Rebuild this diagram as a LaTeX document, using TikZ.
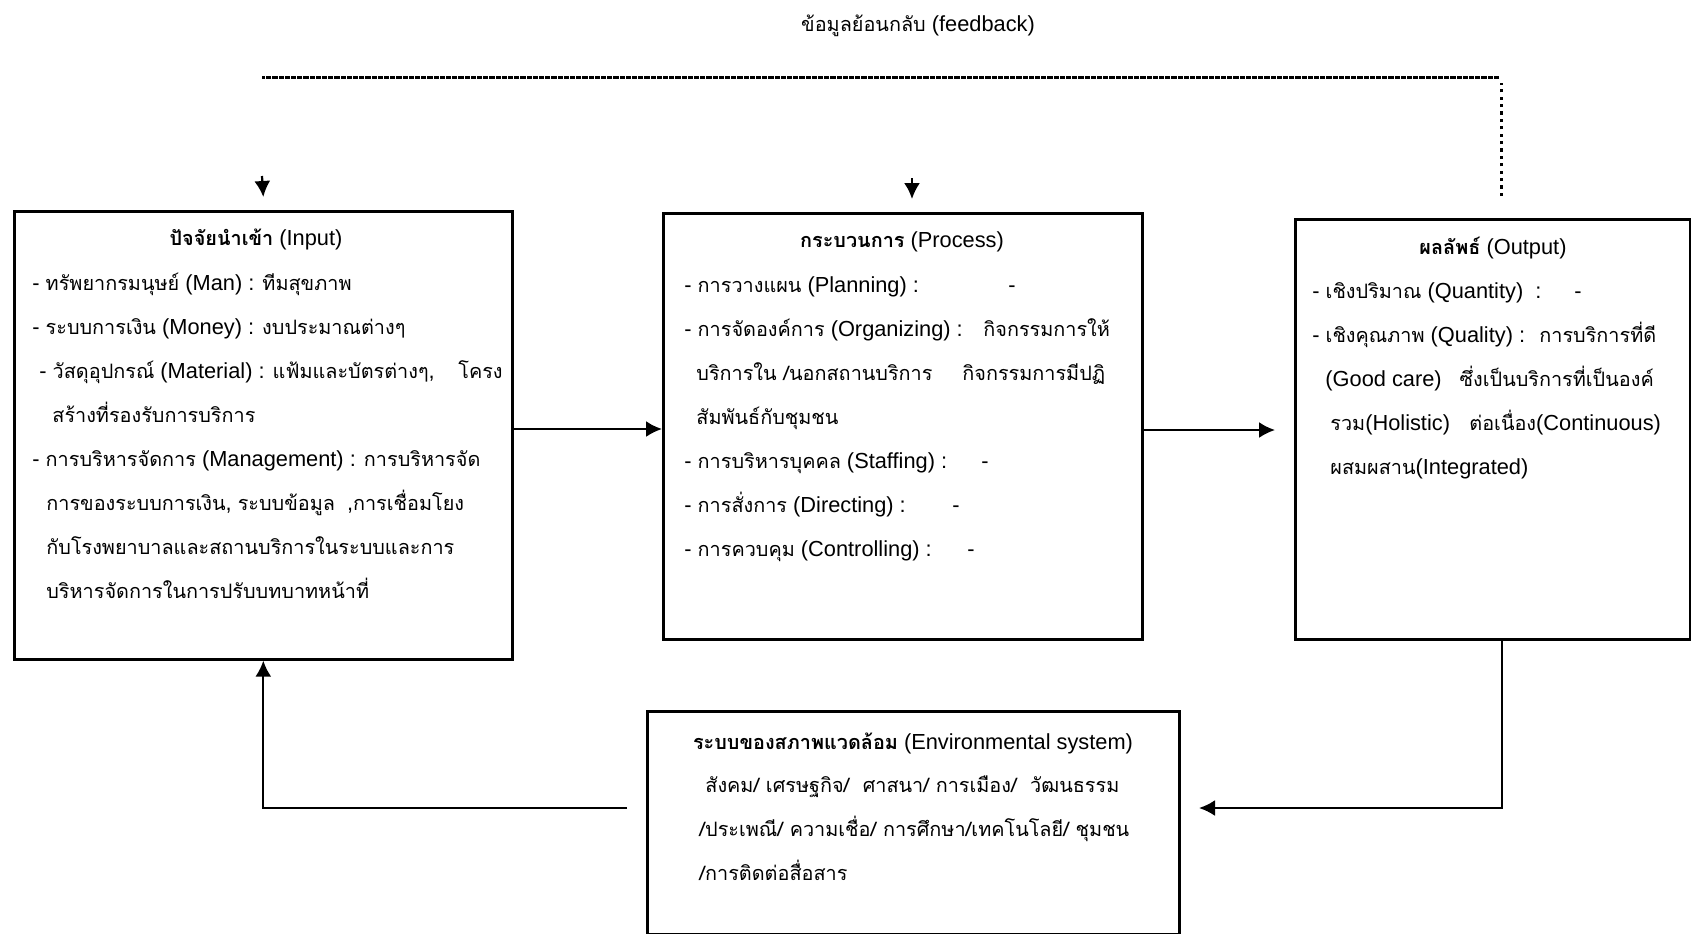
\documentclass[tikz,border=0pt]{standalone}
\usepackage{fontspec}
\setmainfont{Liberation Sans}
\newfontfamily\thaifont[Script=Thai,Scale=0.91]{Loma}
\newcommand\T[1]{{\thaifont #1}}
\usetikzlibrary{arrows.meta}

\tikzset{
  box/.style={draw, line width=1.3pt, rectangle, inner sep=0pt, anchor=north west},
  body/.style={anchor=base west, align=left, inner sep=0pt,
               font=\fontsize{10.9}{22}\selectfont},
  heading/.style={anchor=base, inner sep=0pt, font=\fontsize{10.9}{22}\selectfont},
  conn/.style={line width=1.1pt, -{Latex[length=8pt,width=8pt]}},
  fbline/.style={line width=1.5pt, dash pattern=on 2.6pt off 0.5pt},
  fbdots/.style={line width=1.5pt, dash pattern=on 1.6pt off 2.1pt},
}

\begin{document}
\begin{tikzpicture}[x=0.5pt,y=-0.5pt]
\useasboundingbox (0,0) rectangle (1691,933);

% the four system blocks
\node[box, minimum width=249pt,   minimum height=224pt] (input)   at (13,210)  {};
\node[box, minimum width=239.5pt, minimum height=213pt] (process) at (662,212) {};
\node[box, minimum width=197.5pt, minimum height=210pt] (output)  at (1294,218) {};
\node[box, minimum width=266pt,   minimum height=111.5pt] (env)   at (646,710) {};

% feedback label
\node[heading] (fblabel) at (918,31) {\T{ข้อมูลย้อนกลับ} (feedback)};

% input block (body anchored at the baseline of its last line)
\node[heading] (inputtitle) at (256,245) {\textbf{\T{ปัจจัยนำเข้า}} (Input)};
\node[body] (inputtext) at (32,598) {%
- \T{ทรัพยากรมนุษย์} (Man) : \T{ทีมสุขภาพ}\\
- \T{ระบบการเงิน} (Money) : \T{งบประมาณต่างๆ}\\
\hspace*{3.5pt}\makebox[209.5pt][l]{- \T{วัสดุอุปกรณ์} (Material) : \T{แฟ้มและบัตรต่างๆ},}\T{โครง}\\
\hspace*{10pt}\T{สร้างที่รองรับการบริการ}\\
- \T{การบริหารจัดการ} (Management) : \T{การบริหารจัด}\\
\hspace*{7pt}\T{การของระบบการเงิน}, \T{ระบบข้อมูล}\hspace*{6pt},\T{การเชื่อมโยง}\\
\hspace*{7pt}\T{กับโรงพยาบาลและสถานบริการในระบบและการ}\\
\hspace*{7pt}\T{บริหารจัดการในการปรับบทบาทหน้าที่}};

% process block
\node[heading] (proctitle) at (902,247) {\textbf{\T{กระบวนการ}} (Process)};
\node[body] (proctext) at (684,556) {%
\makebox[162pt][l]{- \T{การวางแผน} (Planning) :}-\\
\makebox[149.5pt][l]{- \T{การจัดองค์การ} (Organizing) :}\T{กิจกรรมการให้}\\
\hspace*{6pt}\makebox[133pt][l]{\T{บริการใน /นอกสถานบริการ}}\T{กิจกรรมการมีปฏิ}\\
\hspace*{6pt}\T{สัมพันธ์กับชุมชน}\\
\makebox[148.5pt][l]{- \T{การบริหารบุคคล} (Staffing) :}-\\
\makebox[134pt][l]{- \T{การสั่งการ} (Directing) :}-\\
\makebox[141.5pt][l]{- \T{การควบคุม} (Controlling) :}-};

% output block
\node[heading] (outtitle) at (1493,254) {\textbf{\T{ผลลัพธ์}} (Output)};
\node[body] (outtext) at (1312,474) {%
\makebox[131pt][l]{- \T{เชิงปริมาณ} (Quantity)\ \ :}-\\
\makebox[113.5pt][l]{- \T{เชิงคุณภาพ} (Quality) :}\T{การบริการที่ดี}\\
\hspace*{6.5pt}(Good care)\hspace*{9pt}\T{ซึ่งเป็นบริการที่เป็นองค์}\\
\hspace*{9pt}\makebox[69.5pt][l]{\T{รวม}(Holistic)}\T{ต่อเนื่อง}(Continuous)\\
\hspace*{9pt}\T{ผสมผสาน}(Integrated)};

% environment block
\node[heading] (envtitle) at (913,749) {\textbf{\T{ระบบของสภาพแวดล้อม}} (Environmental system)};
\node[body] (envtext) at (699,880) {%
\hspace*{3pt}\T{สังคม/ เศรษฐกิจ/\ \ ศาสนา/ การเมือง/\ \ วัฒนธรรม}\\
\T{/ประเพณี/ ความเชื่อ/ การศึกษา/เทคโนโลยี/ ชุมชน}\\
\T{/การติดต่อสื่อสาร}};

% main flow
\coordinate (flowA) at (0,429);
\coordinate (flowB) at (0,430);
\draw[conn] (input.east |- flowA) -- (process.west |- flowA);
\draw[conn, shorten >=9.5pt] (process.east |- flowB) -- (output.west |- flowB);

% output back into the environment, environment back into input
\coordinate (outdown) at (1502,638);
\coordinate (envin)   at (1199,808);
\coordinate (envout)  at (627,808);
\draw[conn] (outdown) |- (envin);
\draw[conn] (envout) -| (input.south);

% feedback loop along the top
\coordinate (fbcorner) at (1501,77);
\coordinate (fbleft)   at (262,77);
\coordinate (fbup)     at (1501,196);
\draw[fbdots] (fbup) -- ([yshift=-3pt]fbcorner);
\draw[fbline] ([xshift=-1pt]fbcorner) -- (fbleft);

\coordinate (fbinA) at (262,176);
\coordinate (fbinB) at (912,178);
\coordinate (fbtipB) at (912,199);
\draw[conn] (fbinA) -- ([yshift=6.5pt]input.north);
\draw[conn] (fbinB) -- (fbtipB);
\end{tikzpicture}
\end{document}
